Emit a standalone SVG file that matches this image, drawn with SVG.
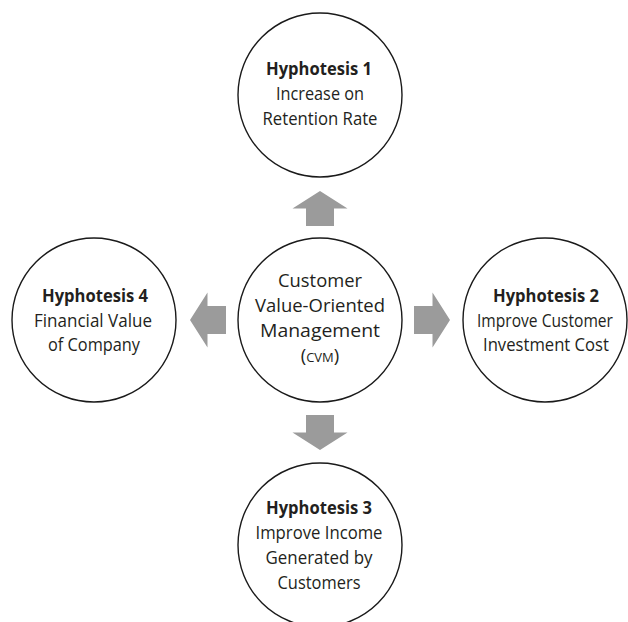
<svg xmlns="http://www.w3.org/2000/svg" width="628" height="622" viewBox="0 0 628 622">
  <style>
    .node circle { fill: #ffffff; stroke: #1a1a1a; stroke-width: 1.4; }
    .t { font-family: "Open Sans", "Noto Sans", sans-serif; font-size: 17.5px; fill: #231f20; text-anchor: middle; }
    .b { font-weight: bold; }
    .c { font-size: 18.5px; }
    .sc { font-size: 13px; }
    .arrow { fill: #9b9b9b; stroke: none; }
  </style>
  <rect width="628" height="622" fill="#ffffff"/>
  <g id="connectors">
    <polygon class="arrow" points="320,191 347.5,208.5 334,208.5 334,226 306,226 306,208.5 292.5,208.5"/>
    <polygon class="arrow" points="320,450 347.5,432.5 334,432.5 334,415 306,415 306,432.5 292.5,432.5"/>
    <polygon class="arrow" points="190,320 207.5,292.5 207.5,306 226,306 226,334 207.5,334 207.5,347.5"/>
    <polygon class="arrow" points="450,320 432.5,292.5 432.5,306 414,306 414,334 432.5,334 432.5,347.5"/>
  </g>
  <g id="node-cvm" class="node">
    <circle cx="320" cy="320" r="82"/>
    <text class="t c" x="320" y="287" textLength="84" lengthAdjust="spacingAndGlyphs">Customer</text>
    <text class="t c" x="320" y="312" textLength="130" lengthAdjust="spacingAndGlyphs">Value-Oriented</text>
    <text class="t c" x="320" y="337" textLength="120" lengthAdjust="spacingAndGlyphs">Management</text>
    <text class="t c" x="320" y="362">(<tspan class="sc">CVM</tspan>)</text>
  </g>
  <g id="node-h1" class="node">
    <circle cx="320" cy="95" r="82"/>
    <text class="t b" x="319" y="75" textLength="106" lengthAdjust="spacingAndGlyphs">Hyphotesis 1</text>
    <text class="t" x="320" y="100" textLength="88" lengthAdjust="spacingAndGlyphs">Increase on</text>
    <text class="t" x="320" y="125" textLength="115" lengthAdjust="spacingAndGlyphs">Retention Rate</text>
  </g>
  <g id="node-h2" class="node">
    <circle cx="545" cy="320" r="82"/>
    <text class="t b" x="546" y="302" textLength="106" lengthAdjust="spacingAndGlyphs">Hyphotesis 2</text>
    <text class="t" x="545" y="326.5" textLength="136" lengthAdjust="spacingAndGlyphs">Improve Customer</text>
    <text class="t" x="546" y="351" textLength="126" lengthAdjust="spacingAndGlyphs">Investment Cost</text>
  </g>
  <g id="node-h3" class="node">
    <circle cx="320" cy="545" r="82"/>
    <text class="t b" x="319" y="514" textLength="106" lengthAdjust="spacingAndGlyphs">Hyphotesis 3</text>
    <text class="t" x="319" y="539" textLength="127" lengthAdjust="spacingAndGlyphs">Improve Income</text>
    <text class="t" x="319" y="564" textLength="107" lengthAdjust="spacingAndGlyphs">Generated by</text>
    <text class="t" x="319" y="589" textLength="83" lengthAdjust="spacingAndGlyphs">Customers</text>
  </g>
  <g id="node-h4" class="node">
    <circle cx="94" cy="320" r="82"/>
    <text class="t b" x="95" y="302" textLength="106" lengthAdjust="spacingAndGlyphs">Hyphotesis 4</text>
    <text class="t" x="93" y="326.5" textLength="118" lengthAdjust="spacingAndGlyphs">Financial Value</text>
    <text class="t" x="94" y="351" textLength="92" lengthAdjust="spacingAndGlyphs">of Company</text>
  </g>
</svg>
